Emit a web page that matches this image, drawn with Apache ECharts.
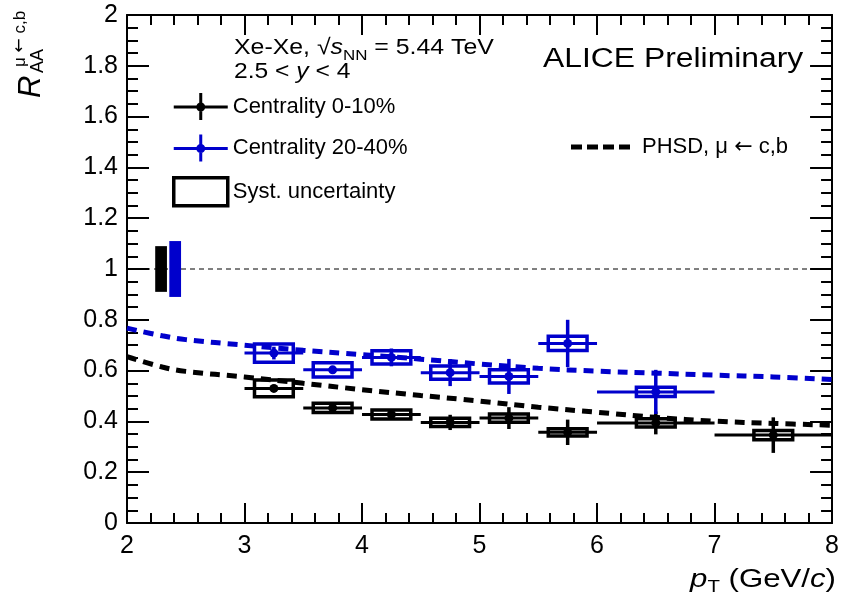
<!DOCTYPE html>
<html>
<head>
<meta charset="utf-8">
<script src="https://cdn.jsdelivr.net/npm/echarts@6/dist/echarts.min.js"></script>
<style>
html,body{margin:0;padding:0;background:#fff;}
#chart{width:842px;height:610px;}
</style>
</head>
<body>
<div id="chart"></div>
<script>
// ---------------- data ----------------
const xTickValues = [2, 3, 4, 5, 6, 7, 8];
const yTickValues = [0, 0.2, 0.4, 0.6, 0.8, 1, 1.2, 1.4, 1.6, 1.8, 2];

// Centrality 0-10%
const ptC010 = [3.25, 3.75, 4.25, 4.75, 5.25, 5.75, 6.5, 7.5];
const binLoC010 = [3, 3.5, 4, 4.5, 5, 5.5, 6, 7];
const binHiC010 = [3.5, 4, 4.5, 5, 5.5, 6, 7, 8];
const raaC010 = [0.530, 0.453, 0.427, 0.396, 0.413, 0.357, 0.394, 0.346];
const statC010 = [0.012, 0.012, 0.015, 0.030, 0.043, 0.050, 0.045, 0.070];
const systC010 = [0.033, 0.018, 0.018, 0.016, 0.016, 0.014, 0.016, 0.018];

// Centrality 20-40%
const ptC2040 = [3.25, 3.75, 4.25, 4.75, 5.25, 5.75, 6.5];
const binLoC2040 = [3, 3.5, 4, 4.5, 5, 5.5, 6];
const binHiC2040 = [3.5, 4, 4.5, 5, 5.5, 6, 7];
const raaC2040 = [0.669, 0.603, 0.652, 0.592, 0.577, 0.707, 0.516];
const statC2040 = [0.025, 0.015, 0.035, 0.053, 0.069, 0.093, 0.087];
const systC2040 = [0.036, 0.028, 0.026, 0.026, 0.026, 0.028, 0.018];

// normalisation uncertainty boxes around unity
const normPos = [2.29, 2.41];
const normUnc = [0.09, 0.11];

// PHSD model curves
const phsdPt = [2.0, 2.3, 2.5, 3.0, 3.5, 4.0, 4.5, 5.0, 5.5, 6.0, 6.5, 7.0, 7.5, 8.0];
const phsdC010 = [0.655, 0.614, 0.597, 0.575, 0.550, 0.525, 0.502, 0.480, 0.456, 0.436, 0.416, 0.401, 0.392, 0.385];
const phsdC2040 = [0.767, 0.737, 0.722, 0.700, 0.680, 0.663, 0.645, 0.626, 0.609, 0.598, 0.590, 0.582, 0.575, 0.565];

// ---------------- helpers ----------------
const BLACK = '#000000';
const BLUE = '#0000cc';
const colors = [BLACK, BLUE];
const FONT = 'Liberation Sans';
const ARROWFONT = 'DejaVu Sans';
const boxHalfWidth = 0.165;
const normHalfWidth = 0.05;

function pointData(pt, lo, hi, v, st) {
  return pt.map((x, i) => [x, v[i], lo[i], hi[i], st[i]]);
}
function pointRenderer(color) {
  return function (params, api) {
    const x = api.value(0), y = api.value(1), lo = api.value(2), hi = api.value(3), st = api.value(4);
    const pL = api.coord([lo, y]), pR = api.coord([hi, y]);
    const pT = api.coord([x, y + st]), pB = api.coord([x, y - st]);
    const pC = api.coord([x, y]);
    return {
      type: 'group',
      children: [
        { type: 'line', shape: { x1: pL[0], y1: pL[1], x2: pR[0], y2: pR[1] }, style: { stroke: color, lineWidth: 3 } },
        { type: 'line', shape: { x1: pT[0], y1: pT[1], x2: pB[0], y2: pB[1] }, style: { stroke: color, lineWidth: 3.5 } },
        { type: 'circle', shape: { cx: pC[0], cy: pC[1], r: 4.5 }, style: { fill: color } }
      ]
    };
  };
}
const systData = ptC010.map((x, i) => [x, raaC010[i], systC010[i], 0])
  .concat(ptC2040.map((x, i) => [x, raaC2040[i], systC2040[i], 1]));
const normData = normPos.map((x, i) => [x, normUnc[i], i]);

const crossIcon = 'path://M0,12.5 L54,12.5 L54,15.5 L0,15.5 Z M25.5,0 L28.5,0 L28.5,27 L25.5,27 Z M22.5,14 A4.5,4.5 0 1 1 31.5,14 A4.5,4.5 0 1 1 22.5,14 Z';
const dashIcon = 'path://M0,0 L11,0 L11,5 L0,5 Z M16,0 L27,0 L27,5 L16,5 Z M32,0 L43,0 L43,5 L32,5 Z M48,0 L59,0 L59,5 L48,5 Z';

function axisCommon(isX, main) {
  return {
    type: 'value',
    min: isX ? xTickValues[0] : yTickValues[0],
    max: isX ? xTickValues[xTickValues.length - 1] : yTickValues[yTickValues.length - 1],
    interval: isX ? xTickValues[1] - xTickValues[0] : yTickValues[1] - yTickValues[0],
    position: isX ? (main ? 'bottom' : 'top') : (main ? 'left' : 'right'),
    axisLine: { show: true, onZero: false, lineStyle: { color: BLACK, width: 2 } },
    axisTick: { show: true, inside: true, length: isX ? 20 : 22, lineStyle: { color: BLACK, width: 2 } },
    minorTick: { show: true, splitNumber: isX ? 5 : 4, length: isX ? 10 : 11, lineStyle: { color: BLACK, width: 2 } },
    splitLine: { show: false },
    minorSplitLine: { show: false },
    axisLabel: {
      show: main, color: BLACK, fontFamily: FONT, fontSize: 25, margin: isX ? 11 : 9,
      formatter: v => String(Math.round(v * 10) / 10)
    }
  };
}

const chart = echarts.init(document.getElementById('chart'), null, { renderer: 'canvas' });
chart.setOption({
  animation: false,
  backgroundColor: '#ffffff',
  grid: { left: 127, right: 7, top: 15, bottom: 87, containLabel: false },
  xAxis: [axisCommon(true, true), axisCommon(true, false)],
  yAxis: [axisCommon(false, true), axisCommon(false, false)],
  legend: [
    {
      left: 167, top: 88, orient: 'vertical', itemWidth: 54, itemHeight: 28, itemGap: 14.5,
      selectedMode: false,
      textStyle: { color: BLACK, fontFamily: FONT, fontSize: 22, padding: [0, 0, 0, 0] },
      data: [
        { name: 'Centrality 0-10%', icon: crossIcon, itemStyle: { color: BLACK, borderWidth: 0 } },
        { name: 'Centrality 20-40%', icon: crossIcon, itemStyle: { color: BLUE, borderWidth: 0 } },
        { name: 'Syst. uncertainty', icon: 'rect', itemStyle: { color: 'rgba(0,0,0,0)', borderColor: BLACK, borderWidth: 3.5 } }
      ]
    },
    {
      left: 566, top: 131, itemWidth: 59, itemHeight: 5, selectedMode: false,
      formatter: function () { return '{n|PHSD, μ }{a|←}{n| c,b}'; },
      textStyle: {
        color: BLACK, fontFamily: FONT, fontSize: 22, padding: [0, 0, 0, 7],
        rich: {
          n: { fontFamily: FONT, fontSize: 22, color: BLACK },
          a: { fontFamily: ARROWFONT, fontSize: 22, color: BLACK }
        }
      },
      data: [{ name: 'PHSD, μ ← c,b', icon: dashIcon, itemStyle: { color: BLACK, borderWidth: 0 } }]
    }
  ],
  series: [
    {
      name: 'unity', type: 'line', symbol: 'none', silent: true, z: 1,
      data: [[xTickValues[0], 1], [xTickValues[xTickValues.length - 1], 1]],
      lineStyle: { color: BLACK, width: 1, type: [5, 4] }
    },
    {
      name: 'PHSD, μ ← c,b', type: 'line', symbol: 'none', smooth: 0.4, z: 2,
      data: phsdPt.map((x, i) => [x, phsdC010[i]]),
      itemStyle: { color: BLACK },
      lineStyle: { color: BLACK, width: 5, type: [10, 7] }
    },
    {
      name: 'PHSD, μ ← c,b', type: 'line', symbol: 'none', smooth: 0.4, z: 2,
      data: phsdPt.map((x, i) => [x, phsdC2040[i]]),
      itemStyle: { color: BLUE },
      lineStyle: { color: BLUE, width: 5, type: [10, 7] }
    },
    {
      name: 'norm', type: 'custom', z: 3,
      data: normData,
      encode: { x: 0, y: 1 },
      renderItem: function (params, api) {
        const x = api.value(0), u = api.value(1), g = api.value(2);
        const p1 = api.coord([x - normHalfWidth, 1 + u]);
        const p2 = api.coord([x + normHalfWidth, 1 - u]);
        return { type: 'rect', shape: { x: p1[0], y: p1[1], width: p2[0] - p1[0], height: p2[1] - p1[1] }, style: { fill: colors[g] } };
      }
    },
    {
      name: 'Syst. uncertainty', type: 'custom', z: 4,
      data: systData,
      encode: { x: 0, y: 1 },
      itemStyle: { color: BLACK },
      renderItem: function (params, api) {
        const x = api.value(0), y = api.value(1), s = api.value(2), g = api.value(3);
        const p1 = api.coord([x - boxHalfWidth, y + s]);
        const p2 = api.coord([x + boxHalfWidth, y - s]);
        return { type: 'rect', shape: { x: p1[0], y: p1[1], width: p2[0] - p1[0], height: p2[1] - p1[1] }, style: { fill: 'none', stroke: colors[g], lineWidth: 3.5 } };
      }
    },
    {
      name: 'Centrality 0-10%', type: 'custom', z: 5,
      data: pointData(ptC010, binLoC010, binHiC010, raaC010, statC010),
      encode: { x: 0, y: 1 },
      itemStyle: { color: BLACK },
      renderItem: pointRenderer(BLACK)
    },
    {
      name: 'Centrality 20-40%', type: 'custom', z: 5,
      data: pointData(ptC2040, binLoC2040, binHiC2040, raaC2040, statC2040),
      encode: { x: 0, y: 1 },
      itemStyle: { color: BLUE },
      renderItem: pointRenderer(BLUE)
    }
  ],
  graphic: [
    {
      type: 'text', x: 234, y: 48, scaleX: 1.13,
      style: {
        text: '{n|Xe-Xe, }{r|√}{i|s}{sub|NN}{n| = 5.44 TeV}',
        verticalAlign: 'middle', align: 'left', fill: BLACK,
        rich: {
          n: { fontFamily: FONT, fontSize: 22, lineHeight: 30, fill: BLACK },
          r: { fontFamily: FONT, fontSize: 22, lineHeight: 30, fill: BLACK },
          i: { fontFamily: FONT, fontSize: 22, fontStyle: 'italic', lineHeight: 30, fill: BLACK },
          sub: { fontFamily: FONT, fontSize: 15, lineHeight: 14, verticalAlign: 'bottom', fill: BLACK }
        }
      }
    },
    {
      type: 'text', x: 234, y: 72, scaleX: 1.12,
      style: {
        text: '{n|2.5 < }{i|y}{n| < 4}',
        verticalAlign: 'middle', align: 'left', fill: BLACK,
        rich: {
          n: { fontFamily: FONT, fontSize: 22, fill: BLACK },
          i: { fontFamily: FONT, fontSize: 22, fontStyle: 'italic', fill: BLACK }
        }
      }
    },
    {
      type: 'text', x: 543, y: 60, scaleX: 1.18,
      style: { text: 'ALICE Preliminary', fontFamily: FONT, fontSize: 27, fill: BLACK, align: 'left', verticalAlign: 'middle' }
    },
    // x-axis title
    {
      type: 'text', x: 836, y: 580, scaleX: 1.2,
      style: {
        text: '{i|p}{sub|T}{n| (GeV/}{i|c}{n|)}',
        align: 'right', verticalAlign: 'middle', fill: BLACK,
        rich: {
          n: { fontFamily: FONT, fontSize: 26, lineHeight: 32, fill: BLACK },
          i: { fontFamily: FONT, fontSize: 26, fontStyle: 'italic', lineHeight: 32, fill: BLACK },
          sub: { fontFamily: FONT, fontSize: 17, lineHeight: 10, verticalAlign: 'bottom', fill: BLACK }
        }
      }
    },
    // y-axis title (rotated)
    {
      type: 'text', x: 31, y: 98, rotation: Math.PI / 2,
      style: { text: 'R', fontFamily: FONT, fontSize: 31, fontStyle: 'italic', fill: BLACK, align: 'left', verticalAlign: 'middle' }
    },
    {
      type: 'text', x: 38, y: 73, rotation: Math.PI / 2,
      style: { text: 'AA', fontFamily: FONT, fontSize: 18, fill: BLACK, align: 'left', verticalAlign: 'middle' }
    },
    {
      type: 'text', x: 20, y: 67, rotation: Math.PI / 2,
      style: {
        text: '{n|μ }{a|←}{n| c,b}', align: 'left', verticalAlign: 'middle', fill: BLACK,
        rich: {
          n: { fontFamily: FONT, fontSize: 17, fill: BLACK },
          a: { fontFamily: ARROWFONT, fontSize: 17, fill: BLACK }
        }
      }
    }
  ]
});
</script>
</body>
</html>
